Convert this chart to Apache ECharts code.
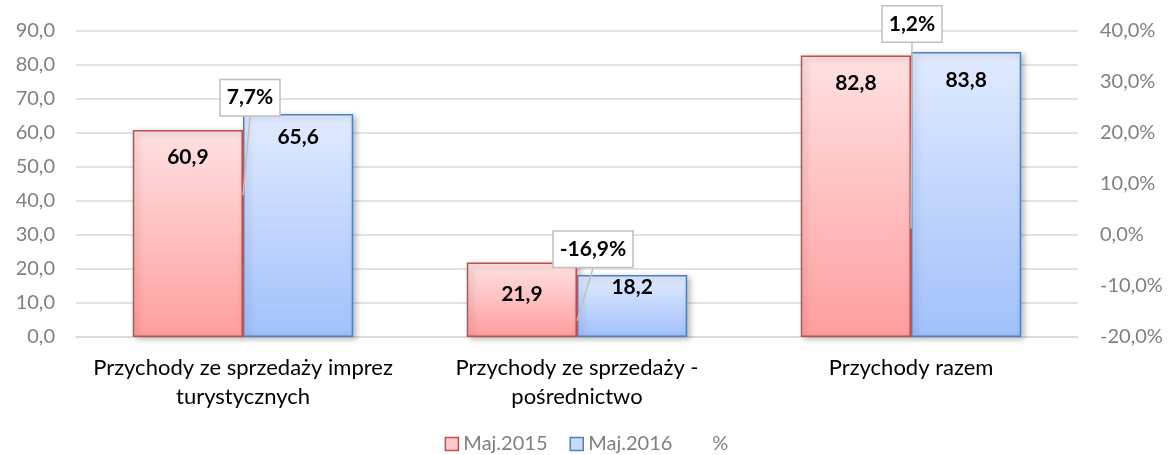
<!DOCTYPE html>
<html>
<head>
<meta charset="utf-8">
<script src="https://cdn.jsdelivr.net/npm/echarts@6/dist/echarts.min.js"></script>
<style>
  html, body { margin: 0; padding: 0; background: #fff; }
  #chart { width: 1173px; height: 455px; }
</style>
</head>
<body>
<div id="chart"></div>
<script>
// dane
var categories = ['Przychody ze sprzedaży imprez\nturystycznych', 'Przychody ze sprzedaży -\npośrednictwo', 'Przychody razem'];
var maj2015 = [60.9, 21.9, 82.8];
var maj2016 = [65.6, 18.2, 83.8];
var zmiana = [7.7, -16.9, 1.2];
var leftTicks = { min: 0, max: 90, step: 10 };
var rightTicks = { min: -20, max: 40, step: 10 };

var fmt = function (v) { return Number(v).toFixed(1).replace('.', ','); };
var font = 'Lato';

var chart = echarts.init(document.getElementById('chart'));

// przesunięcia etykiet % (dx, dy) względem punktu
var calloutShift = [[7, -98], [16, -72], [1, -205]];
// odstęp etykiety od górnej krawędzi słupka
var dist2015 = [17, 21, 17];
var dist2016 = [13, 2, 18];

var barShadow = {
    shadowColor: 'rgba(0,0,0,0.28)',
    shadowBlur: 6,
    shadowOffsetX: 3,
    shadowOffsetY: 2
};

var valueLabel = {
    show: true,
    position: 'insideTop',
    color: '#000',
    fontWeight: 'bold',
    fontSize: 21,
    fontFamily: font,
    formatter: function (p) { return fmt(p.value); }
};

var option = {
    backgroundColor: '#fff',
    textStyle: { fontFamily: font },
    legend: {
        top: 429,
        left: 'center',
        itemWidth: 13,
        itemHeight: 13,
        itemGap: 22,
        textStyle: { color: '#7f7f7f', fontSize: 20, fontFamily: font },
        data: [
            { name: 'Maj.2015', icon: 'rect', itemStyle: { color: '#ffc9c9', borderColor: '#c0504d', borderWidth: 1.5 } },
            { name: 'Maj.2016', icon: 'rect', itemStyle: { color: '#c9dbfb', borderColor: '#4f81bd', borderWidth: 1.5 } },
            { name: '%', icon: 'rect', itemStyle: { opacity: 0 }, lineStyle: { opacity: 0 } }
        ]
    },
    grid: { left: 76, right: 95, top: 31, bottom: 118 },
    xAxis: {
        type: 'category',
        data: categories,
        axisTick: { show: false },
        axisLine: { lineStyle: { color: '#d9d9d9', width: 1.5 } },
        axisLabel: {
            interval: 0,
            color: '#000',
            fontSize: 22,
            fontFamily: font,
            lineHeight: 29,
            margin: 16
        }
    },
    yAxis: [{
        type: 'value',
        min: leftTicks.min,
        max: leftTicks.max,
        interval: leftTicks.step,
        axisLine: { show: false },
        axisTick: { show: false },
        splitLine: { lineStyle: { color: '#d9d9d9', width: 1.5 } },
        axisLabel: { color: '#7f7f7f', fontSize: 20, fontFamily: font, margin: 21, formatter: fmt }
    }, {
        type: 'value',
        min: rightTicks.min,
        max: rightTicks.max,
        interval: rightTicks.step,
        axisLine: { show: false },
        axisTick: { show: false },
        splitLine: { show: false },
        axisLabel: { color: '#7f7f7f', fontSize: 20, fontFamily: font, margin: 22, formatter: function (v) { return fmt(v) + '%'; } }
    }],
    series: [{
        name: 'Maj.2015',
        type: 'bar',
        barGap: '0%',
        barCategoryGap: '34%',
        itemStyle: Object.assign({
            color: new echarts.graphic.LinearGradient(0, 0, 0, 1, [
                { offset: 0, color: '#ffe1e1' },
                { offset: 1, color: '#ff9e9e' }
            ]),
            borderColor: '#c0504d',
            borderWidth: 1.5
        }, barShadow),
        data: maj2015.map(function (v, i) {
            return { value: v, label: { distance: dist2015[i] } };
        }),
        label: valueLabel
    }, {
        name: 'Maj.2016',
        type: 'bar',
        itemStyle: Object.assign({
            color: new echarts.graphic.LinearGradient(0, 0, 0, 1, [
                { offset: 0, color: '#e1ebff' },
                { offset: 1, color: '#a1c0fb' }
            ]),
            borderColor: '#4f81bd',
            borderWidth: 1.5
        }, barShadow),
        data: maj2016.map(function (v, i) {
            return { value: v, label: { distance: dist2016[i] } };
        }),
        label: valueLabel
    }, {
        name: '%',
        type: 'line',
        yAxisIndex: 1,
        z: 10,
        symbol: 'circle',
        symbolSize: 1,
        itemStyle: { color: 'rgba(0,0,0,0)' },
        lineStyle: { opacity: 0 },
        data: zmiana,
        label: {
            show: true,
            position: 'inside',
            color: '#000',
            fontWeight: 'bold',
            fontSize: 21,
            fontFamily: font,
            backgroundColor: '#fff',
            borderColor: '#bfbfbf',
            borderWidth: 1.5,
            padding: [8, 6, 6, 6],
            formatter: function (p) { return fmt(p.value) + '%'; }
        },
        labelLine: {
            show: true,
            lineStyle: { color: '#bfbfbf', width: 1.5 }
        },
        labelLayout: function (p) {
            return { dx: calloutShift[p.dataIndex][0], dy: calloutShift[p.dataIndex][1] };
        }
    }]
};

chart.setOption(option);
</script>
</body>
</html>
